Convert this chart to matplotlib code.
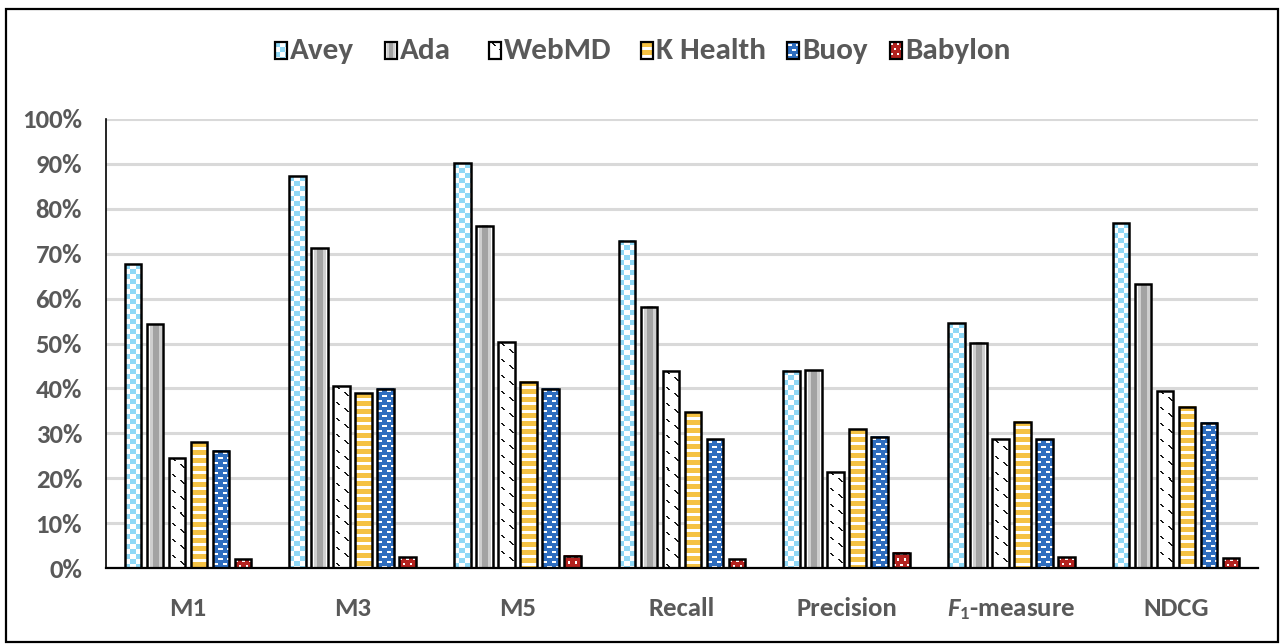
import numpy as np
import matplotlib
matplotlib.use('Agg')
import matplotlib.pyplot as plt
from matplotlib import colors as mcolors
from matplotlib import font_manager
from matplotlib.patches import Rectangle

# scores per metric, one list per system (percent)
categories = ['M1', 'M3', 'M5', 'Recall', 'Precision', r'$\mathit{F}_{\mathit{1}}$-measure', 'NDCG']
systems = ['Avey', 'Ada', 'WebMD', 'K Health', 'Buoy', 'Babylon']
avey = [67.6, 87.3, 90.1, 72.9, 43.9, 54.5, 76.8]
ada = [54.3, 71.2, 76.2, 58.2, 44.0, 50.2, 63.2]
webmd = [24.6, 40.6, 50.3, 43.9, 21.4, 28.7, 39.5]
khealth = [28.0, 38.9, 41.5, 34.7, 30.9, 32.6, 35.9]
buoy = [26.1, 39.9, 39.9, 28.7, 29.2, 28.7, 32.4]
babylon = [2.0, 2.4, 2.7, 2.0, 3.4, 2.4, 2.2]
yticks = [0, 10, 20, 30, 40, 50, 60, 70, 80, 90, 100]

series = [avey, ada, webmd, khealth, buoy, babylon]

# pick a narrow humanist sans if one is around
names = {f.name for f in font_manager.fontManager.ttflist}
family = 'DejaVu Sans'
for cand in ['Carlito', 'Liberation Sans Narrow', 'Roboto Condensed', 'Open Sans Condensed',
             'Arial Narrow', 'PT Sans Narrow', 'Lato']:
    if cand in names:
        family = cand
        break
plt.rcParams['font.family'] = [family, 'DejaVu Sans']
plt.rcParams['mathtext.fontset'] = 'custom'
plt.rcParams['mathtext.it'] = family + ':italic:bold'
plt.rcParams['mathtext.rm'] = family + ':bold'
plt.rcParams['mathtext.bf'] = family + ':bold'
txt_color = '#595959'

W, H = 1281, 644
fig = plt.figure(figsize=(W / 100, H / 100), dpi=100)
renderer = fig.canvas.get_renderer()


def fit_size(s, target_px):
    t = fig.text(0, 0, s, fontsize=20, fontweight='bold')
    w = t.get_window_extent(renderer).width
    t.remove()
    return 20 * target_px / w


tick_fs = fit_size('Precision', 101)
leg_fs = fit_size('K Health', 110)

ax = fig.add_axes([105.7 / W, 76 / H, 1152.6 / W, 449 / H])


def rgb(c):
    return np.array(mcolors.to_rgb(c))


# fill patterns, drawn pixel by pixel (row 0 = top)
def pattern(name, h, w):
    r = np.arange(h)[:, None] + np.zeros((1, w), dtype=int)
    c = np.arange(w)[None, :] + np.zeros((h, 1), dtype=int)
    img = np.ones((h, w, 3))
    if name == 'Avey':
        m = ((r // 5 + c // 5) % 2 == 0)
        img[m] = rgb('#8fd8f6')
    elif name == 'Ada':
        f = (c + 0.5) / w
        img[(f > 0.18) & (f < 0.85)] = rgb('#cfcfcf')
        img[(f > 0.36) & (f < 0.66)] = rgb('#a3a3a3')
    elif name == 'WebMD':
        k = r % 16
        m = (((k >= 1) & (k < 4) & ((c == k + 2) | (c == k + 3))) |
             ((k >= 7) & (k < 11) & ((c == k + 3) | (c == k + 4))))
        img[m] = rgb('#1a1a1a')
    elif name == 'K Health':
        img[r % 8 < 5] = rgb('#f5c244')
    elif name == 'Buoy':
        img[:] = rgb('#2e6dbf')
        b = r // 5
        cc = (c + 4 * (b % 2)) % 8
        m = (r % 5 >= 2) & (r % 5 < 4) & (cc >= 1) & (cc < 5)
        img[m] = 1.0
    elif name == 'Babylon':
        img[:] = rgb('#b3221f')
        b = r // 5
        cc = (c + 3 * (b % 2)) % 6
        m = (r % 5 >= 1) & (r % 5 < 3) & (cc >= 1) & (cc < 3)
        img[m] = 1.0
    return img


x = np.arange(len(categories))
pitch = 0.1336
width = 0.1
ax.set_xlim(-0.5, len(categories) - 0.5)
ax.set_ylim(0, 100)

for i, (name, vals) in enumerate(zip(systems, series)):
    pos = x + (i - 2.5) * pitch
    bars = ax.bar(pos, vals, width, facecolor='none', edgecolor='black',
                  linewidth=1.8, zorder=4)
    for b in bars:
        x0, x1 = b.get_x(), b.get_x() + b.get_width()
        y1 = b.get_height()
        p0 = ax.transData.transform((x0, 0))
        p1 = ax.transData.transform((x1, y1))
        w_px = max(1, int(round(p1[0] - p0[0])))
        h_px = max(1, int(round(p1[1] - p0[1])))
        ax.imshow(pattern(name, h_px, w_px), extent=(x0, x1, 0, y1),
                  origin='upper', aspect='auto', interpolation='nearest', zorder=3)

ax.set_xlim(-0.5, len(categories) - 0.5)
ax.set_ylim(0, 100)

ax.set_yticks(yticks)
ax.set_yticklabels([f'{v}%' for v in yticks], fontsize=tick_fs, fontweight='bold', color=txt_color)
ax.set_xticks(x)
ax.set_xticklabels(categories, fontsize=tick_fs, fontweight='bold', color=txt_color)
ax.tick_params(axis='y', length=0, pad=17)
ax.tick_params(axis='x', length=0, pad=21)
ax.yaxis.grid(True, color='#d9d9d9', linewidth=2.2)
ax.set_axisbelow(True)
for s in ('top', 'right'):
    ax.spines[s].set_visible(False)
ax.spines['left'].set_linewidth(1.2)
ax.spines['bottom'].set_linewidth(1.6)
ax.spines['bottom'].set_zorder(5)

# overlay in pixel coordinates for legend and frame
ov = fig.add_axes([0, 0, 1, 1])
ov.set_xlim(0, W)
ov.set_ylim(0, H)
ov.axis('off')
ov.patch.set_alpha(0)
ov.add_patch(Rectangle((6, 2), 1272, 633, fill=False, edgecolor='black', linewidth=1.6))

leg_x = [275, 385, 489, 641, 787, 890]
for name, lx in zip(systems, leg_x):
    bw, bh = 12, 17
    by = H - 59
    ov.imshow(pattern(name, bh, bw), extent=(lx, lx + bw, by, by + bh),
              origin='upper', aspect='auto', interpolation='nearest', zorder=3)
    ov.add_patch(Rectangle((lx, by), bw, bh, fill=False, edgecolor='black',
                           linewidth=1.6, zorder=4))
    ov.text(lx + bw + 3, by, name, fontsize=leg_fs, fontweight='bold',
            color=txt_color, va='baseline', ha='left')
ov.set_xlim(0, W)
ov.set_ylim(0, H)

fig.savefig('out.png', dpi=100)
